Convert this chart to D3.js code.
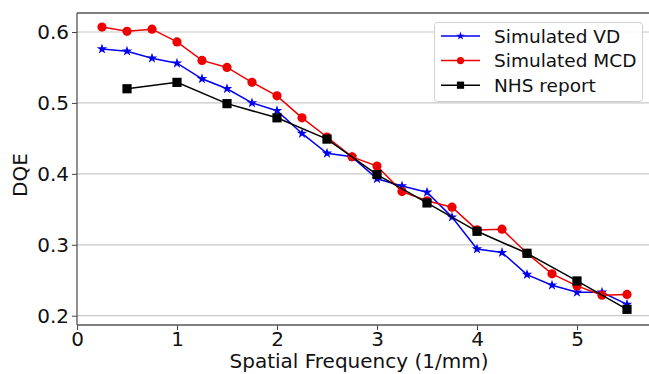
<!DOCTYPE html>
<html><head><meta charset="utf-8">
<script src="https://cdn.jsdelivr.net/npm/d3@7"></script>
<style>body{margin:0;background:#fff}svg{display:block}text{font-family:"DejaVu Sans",sans-serif;fill:#111}</style>
</head><body><svg id="c" width="649" height="374"></svg>
<script>
const freqSim = [0.25,0.5,0.75,1.0,1.25,1.5,1.75,2.0,2.25,2.5,2.75,3.0,3.25,3.5,3.75,4.0,4.25,4.5,4.75,5.0,5.25,5.5];
const vdValues = [0.576,0.573,0.563,0.556,0.534,0.520,0.500,0.489,0.457,0.429,0.424,0.393,0.383,0.374,0.339,0.294,0.289,0.258,0.243,0.233,0.233,0.216];
const mcdValues = [0.607,0.601,0.604,0.586,0.560,0.550,0.529,0.510,0.479,0.452,0.424,0.411,0.375,0.362,0.353,0.321,0.322,0.288,0.259,0.242,0.229,0.230];
const freqNhs = [0.5,1.0,1.5,2.0,2.5,3.0,3.5,4.0,4.5,5.0,5.5];
const nhsValues = [0.520,0.529,0.499,0.479,0.449,0.399,0.359,0.319,0.288,0.249,0.209];
const xTicks = [0,1,2,3,4,5];
const yTicks = [0.2,0.3,0.4,0.5,0.6];
const seriesNames = ["Simulated VD","Simulated MCD","NHS report"];

const svg = d3.select("#c");
const L=77, T=13, R=655, B=325;
const x = d3.scaleLinear().domain([0,5.78]).range([L,R]);
const y = d3.scaleLinear().domain([0.1869,0.6268]).range([B,T]);

// grid
svg.append("g").selectAll("line").data(yTicks).join("line")
  .attr("x1",L).attr("x2",R).attr("y1",d=>y(d)).attr("y2",d=>y(d))
  .attr("stroke","#c8c8c8").attr("stroke-width",1.2);

// axes
const ax = svg.append("g").attr("transform",`translate(0,${B})`)
  .call(d3.axisBottom(x).tickValues(xTicks).tickFormat(d3.format("d")).tickSize(5).tickPadding(2));
const ay = svg.append("g").attr("transform",`translate(${L},0)`)
  .call(d3.axisLeft(y).tickValues(yTicks).tickFormat(d3.format(".1f")).tickSize(5).tickPadding(3));
[ax,ay].forEach(g=>{
  g.select(".domain").remove();
  g.selectAll(".tick line").attr("stroke","#444").attr("stroke-width",1);
  g.selectAll(".tick text").attr("font-size",20).attr("fill","#111").style("font-family","DejaVu Sans");
});
// spines
svg.append("line").attr("x1",L).attr("x2",L).attr("y1",T).attr("y2",B).attr("stroke","#555").attr("stroke-width",1.3);
svg.append("line").attr("x1",L).attr("x2",R).attr("y1",T).attr("y2",T).attr("stroke","#555").attr("stroke-width",1.3);
svg.append("line").attr("x1",L).attr("x2",R).attr("y1",B).attr("y2",B).attr("stroke","#555").attr("stroke-width",1.3);

// labels
svg.append("text").attr("x",359).attr("y",368).attr("text-anchor","middle").attr("font-size",20).text("Spatial Frequency (1/mm)");
svg.append("text").attr("transform","translate(27,175) rotate(-90)").attr("text-anchor","middle").attr("font-size",20).text("DQE");

const line = d3.line().x(d=>x(d[0])).y(d=>y(d[1]));
const star = d3.symbol().type(d3.symbolStar).size(34);
const series = [
  {name:seriesNames[0], xs:freqSim, ys:vdValues, color:"#0000ee", marker:"star"},
  {name:seriesNames[1], xs:freqSim, ys:mcdValues, color:"#ee0000", marker:"circle"},
  {name:seriesNames[2], xs:freqNhs, ys:nhsValues, color:"#000000", marker:"square"}
];
function drawMarker(g, m, color){
  if(m==="star") g.append("path").attr("d",star()).attr("fill",color);
  else if(m==="circle") g.append("circle").attr("r",4.6).attr("fill",color);
  else g.append("rect").attr("x",-4.6).attr("y",-4.6).attr("width",9.2).attr("height",9.2).attr("fill",color);
}
series.forEach(s=>{
  const pts = s.xs.map((v,i)=>[v,s.ys[i]]);
  svg.append("path").attr("d",line(pts)).attr("fill","none").attr("stroke",s.color).attr("stroke-width",1.5);
  pts.forEach(p=>{
    const g = svg.append("g").attr("transform",`translate(${x(p[0])},${y(p[1])})`);
    drawMarker(g,s.marker,s.color);
  });
});

// legend
const lg = svg.append("g");
lg.append("rect").attr("x",434.5).attr("y",22.5).attr("width",208).attr("height",79).attr("rx",3)
  .attr("fill","white").attr("fill-opacity",0.85).attr("stroke","#d0d0d0").attr("stroke-width",1);
series.forEach((s,i)=>{
  const yy = 36 + i*24.6;
  lg.append("line").attr("x1",441).attr("x2",480).attr("y1",yy).attr("y2",yy).attr("stroke",s.color).attr("stroke-width",1.5);
  const g = lg.append("g").attr("transform",`translate(460.5,${yy})`);
  if(s.marker==="star") g.append("path").attr("d",d3.symbol().type(d3.symbolStar).size(22)()).attr("fill",s.color);
  else if(s.marker==="circle") g.append("circle").attr("r",3.6).attr("fill",s.color);
  else g.append("rect").attr("x",-3.6).attr("y",-3.6).attr("width",7.2).attr("height",7.2).attr("fill",s.color);
  lg.append("text").attr("x",494).attr("y",yy+6.5).attr("font-size",18.5).text(s.name);
});
</script></body></html>
